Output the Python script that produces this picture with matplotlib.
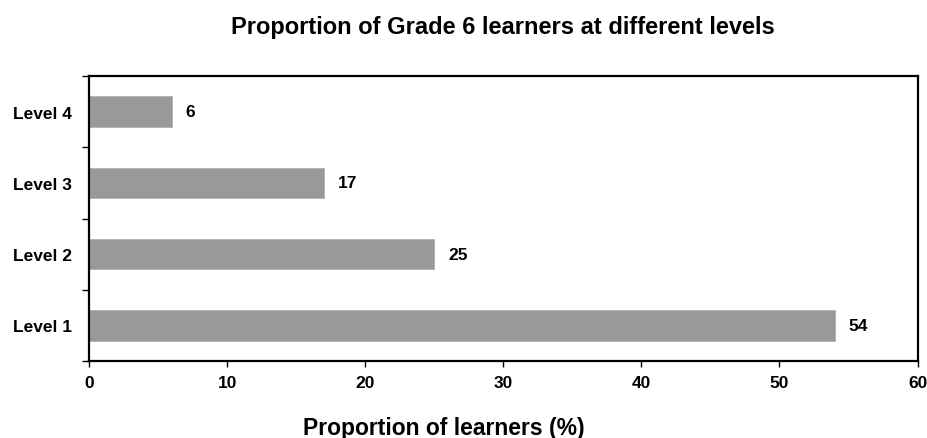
import matplotlib
matplotlib.use("Agg")
import matplotlib.pyplot as plt
import numpy as np

plt.rcParams['font.family'] = ['Liberation Sans', 'DejaVu Sans']

categories = ["Level 1", "Level 2", "Level 3", "Level 4"]
values = [54, 25, 17, 6]
xticks = [0, 10, 20, 30, 40, 50, 60]

fig = plt.figure(figsize=(9.28, 4.39), dpi=100)
ax = fig.add_axes([0.0959, 0.1754, 0.8928, 0.6492])

y = np.arange(len(categories))
ax.barh(y, values, height=0.43, color="#999999", edgecolor="#b0b0b0", linewidth=0.6)
for yi, v in zip(y, values):
    ax.text(v + 1.0, yi, f"{v}", va="center", ha="left", fontsize=12.5, fontweight="bold")

ax.set_xlim(0, 60)
ax.set_ylim(-0.5, 3.5)
ax.set_xticks(xticks)
ax.set_xticklabels([str(t) for t in xticks], fontsize=12.5, fontweight="bold")
ax.set_yticks(y)
ax.set_yticklabels(categories, fontsize=12.5, fontweight="bold")
ax.tick_params(axis="y", length=0, pad=12)
ax.set_yticks(np.arange(-0.5, 4.0, 1.0), minor=True)
ax.tick_params(axis="y", which="minor", length=5, width=1, direction="out")
ax.tick_params(axis="x", length=4, width=1, direction="out", pad=6)
for s in ax.spines.values():
    s.set_linewidth(1.6)
    s.set_color("black")

ax.set_title("Proportion of Grade 6 learners at different levels", fontsize=17, fontweight="bold", pad=31)
ax.set_xlabel("Proportion of learners (%)", fontsize=16.5, fontweight="bold", labelpad=18.5, x=0.428)

fig.savefig("out.png", dpi=100)
